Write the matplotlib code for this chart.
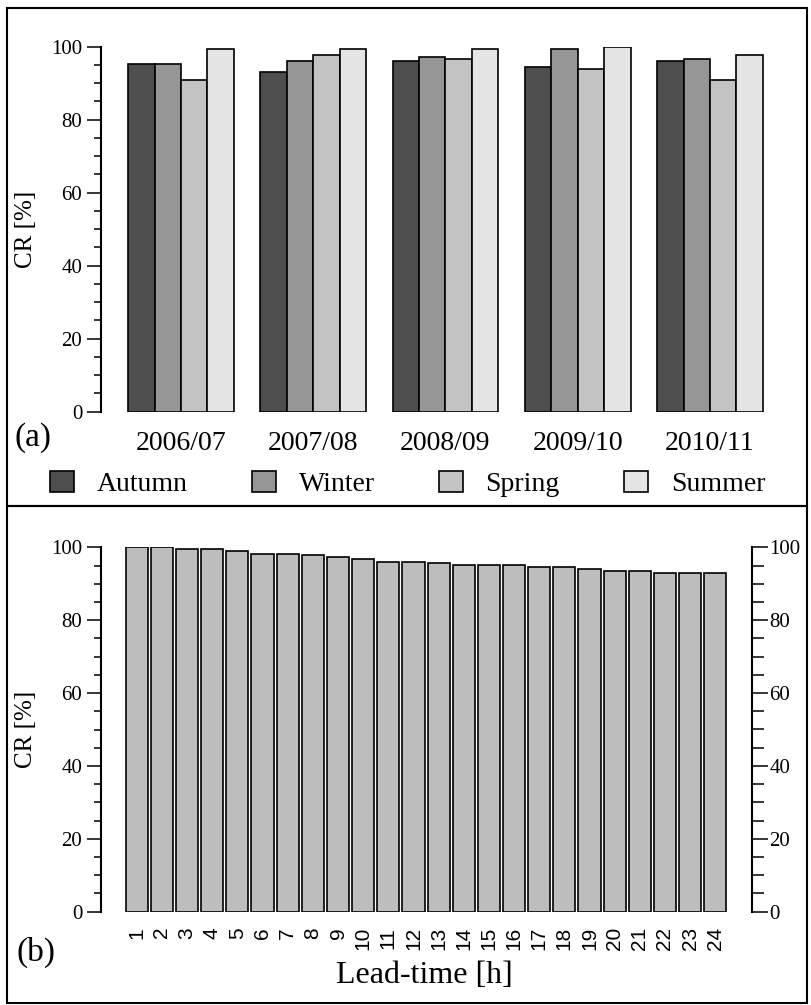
import matplotlib
matplotlib.use('Agg')
import matplotlib.pyplot as plt
import numpy as np
from matplotlib.patches import Patch, Rectangle
from matplotlib.ticker import MultipleLocator

plt.rcParams['font.family'] = ['Liberation Serif', 'DejaVu Serif']

# Panel (a): CR per season and year
years = ['2006/07', '2007/08', '2008/09', '2009/10', '2010/11']
seasons = ['Autumn', 'Winter', 'Spring', 'Summer']
autumn = [95.2, 93.0, 96.1, 94.5, 96.1]
winter = [95.2, 96.1, 97.3, 99.4, 96.7]
spring = [90.8, 97.7, 96.7, 93.9, 90.8]
summer = [99.5, 99.3, 99.4, 99.9, 97.7]
season_colors = ['#4e4e4e', '#969696', '#c3c3c3', '#e5e5e5']

# Panel (b): CR per lead-time
lead_time = list(range(1, 25))
cr_lead = [100.0, 100.0, 99.5, 99.5, 98.9, 98.2, 98.2, 97.8, 97.3, 96.8,
           96.1, 96.1, 95.6, 95.1, 95.1, 95.1, 94.6, 94.6, 94.0, 93.4,
           93.4, 92.9, 92.9, 92.9]

W, H = 811, 1005
fig = plt.figure(figsize=(W / 100, H / 100), dpi=100)


def px(x0, y0, x1, y1):
    # pixel box (top-left origin) -> figure fraction rect
    return [x0 / W, 1 - y1 / H, (x1 - x0) / W, (y1 - y0) / H]


def style_left(ax):
    for s in ['top', 'right', 'bottom']:
        ax.spines[s].set_visible(False)
    ax.spines['left'].set_linewidth(1.5)
    ax.set_ylim(0, 100)
    ax.yaxis.set_major_locator(MultipleLocator(20))
    ax.yaxis.set_minor_locator(MultipleLocator(5))
    ax.tick_params(axis='y', which='major', length=10, width=1.1, pad=3.5,
                   labelsize=15, direction='out')
    ax.tick_params(axis='y', which='minor', length=5, width=1.1, direction='out')
    ax.tick_params(axis='x', length=0)


# ---- (a)
ax1 = fig.add_axes(px(101, 46.7, 790, 411.7))
style_left(ax1)
x = np.arange(len(years))
bw = 0.2
for i, (vals, c) in enumerate(zip([autumn, winter, spring, summer], season_colors)):
    ax1.bar(x + (i - 1.5) * bw, vals, bw, color=c, edgecolor='black', linewidth=1.2)
ax1.set_xlim(-0.605, 4.605)
ax1.set_xticks(x)
ax1.set_xticklabels(years, fontsize=20)
ax1.tick_params(axis='x', pad=14)
ax1.set_ylabel('CR [%]', fontsize=18)
ax1.yaxis.set_label_coords((37 - 101) / 689, 0.5)

handles = [Patch(facecolor=c, edgecolor='black', linewidth=1.2) for c in season_colors]
fig.legend(handles, seasons, loc='center', bbox_to_anchor=(407.5 / W, 1 - 484 / H),
           ncol=4, frameon=False, fontsize=20, handlelength=0.86, handleheight=0.8,
           handletextpad=0.83, columnspacing=2.3, borderpad=0, borderaxespad=0)
fig.text(15 / W, 1 - 438 / H, '(a)', fontsize=24, ha='left', va='center')

# ---- (b)
ax2 = fig.add_axes(px(101, 547.3, 752, 911.7))
style_left(ax2)
ax2.bar(lead_time, cr_lead, 0.88, color='#bdbdbd', edgecolor='black', linewidth=1.2)
ax2.set_xlim(-0.423, 25.46)
ax2.set_xticks(lead_time)
ax2.set_xticklabels([str(v) for v in lead_time], rotation=90, fontsize=15,
                    family=['Liberation Sans', 'DejaVu Sans'])
ax2.tick_params(axis='x', pad=11)
ax2.set_ylabel('CR [%]', fontsize=18)
ax2.yaxis.set_label_coords((37 - 101) / 651, 0.5)

ax2r = ax2.twinx()
for s in ['top', 'left', 'bottom']:
    ax2r.spines[s].set_visible(False)
ax2r.spines['right'].set_linewidth(1.5)
ax2r.set_ylim(0, 100)
ax2r.yaxis.set_major_locator(MultipleLocator(20))
ax2r.yaxis.set_minor_locator(MultipleLocator(5))
ax2r.tick_params(axis='y', which='major', length=11.5, width=1.1, pad=1, labelsize=15)
ax2r.tick_params(axis='y', which='minor', length=8.5, width=1.1)

fig.text(424 / W, 1 - 975 / H, 'Lead-time [h]', fontsize=23, ha='center', va='center')
fig.text(17 / W, 1 - 952 / H, '(b)', fontsize=24, ha='left', va='center')

# panel frames
for y0, y1 in [(8, 506), (506, 1003)]:
    fig.add_artist(Rectangle((7 / W, 1 - y1 / H), 800 / W, (y1 - y0) / H,
                             transform=fig.transFigure, fill=False,
                             edgecolor='black', linewidth=1.5))

fig.savefig('out.png', dpi=100)
